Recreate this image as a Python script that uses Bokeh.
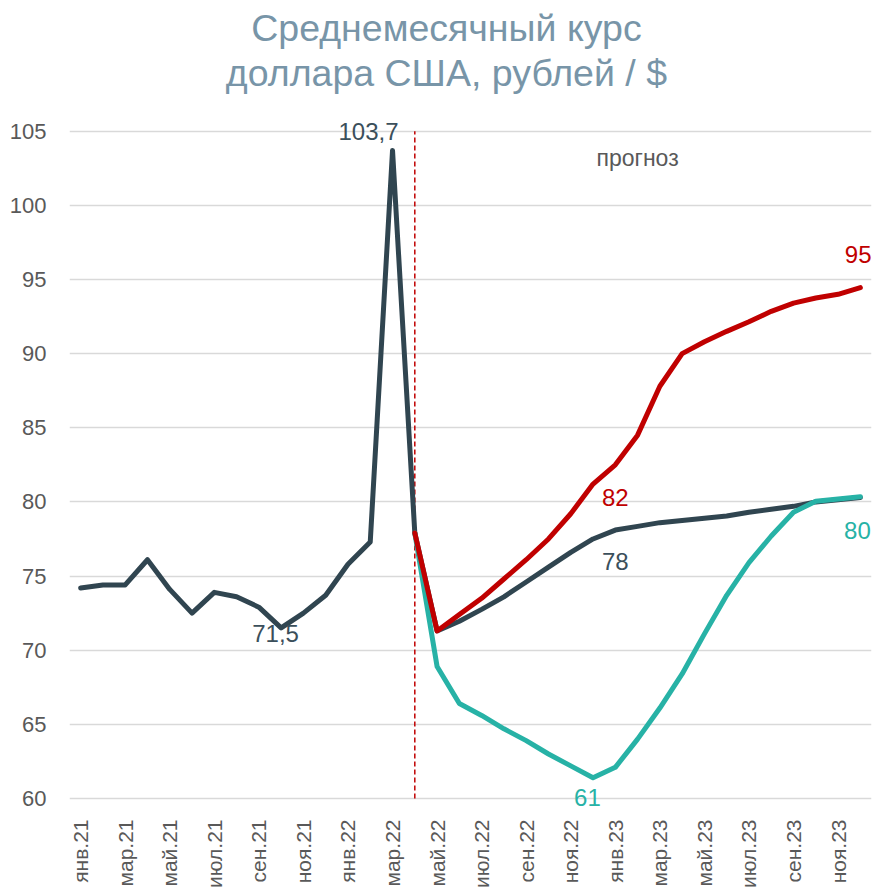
import math
from bokeh.plotting import figure
from bokeh.models import Range1d, FixedTicker, Label
from bokeh.embed import file_html
from bokeh.resources import INLINE

# ---- data ----
months = ["янв.21", "фев.21", "мар.21", "апр.21", "май.21", "июн.21", "июл.21", "авг.21",
          "сен.21", "окт.21", "ноя.21", "дек.21", "янв.22", "фев.22", "мар.22", "апр.22",
          "май.22", "июн.22", "июл.22", "авг.22", "сен.22", "окт.22", "ноя.22", "дек.22",
          "янв.23", "фев.23", "мар.23", "апр.23", "май.23", "июн.23", "июл.23", "авг.23",
          "сен.23", "окт.23", "ноя.23", "дек.23"]

history = [74.2, 74.4, 74.4, 76.1, 74.1, 72.5, 73.9, 73.6, 72.9, 71.5, 72.5, 73.7,
           75.8, 77.3, 103.7, 77.9]                      # янв.21 .. апр.22

base = [77.9, 71.3, 71.95, 72.75, 73.6, 74.6, 75.6, 76.6, 77.5, 78.1, 78.35, 78.6,
        78.75, 78.9, 79.05, 79.3, 79.5, 79.7, 80.0, 80.15, 80.3]   # апр.22 .. дек.23
optimistic = [77.9, 68.9, 66.4, 65.6, 64.7, 63.9, 63.0, 62.2, 61.4, 62.1, 64.0, 66.1,
              68.4, 71.1, 73.7, 75.9, 77.7, 79.3, 80.05, 80.2, 80.35]
pessimistic = [77.9, 71.3, 72.4, 73.5, 74.8, 76.1, 77.5, 79.2, 81.2, 82.5, 84.5, 87.8,
               90.0, 90.8, 91.5, 92.15, 92.85, 93.4, 93.75, 94.0, 94.45]

y_ticks = [60, 65, 70, 75, 80, 85, 90, 95, 100, 105]
forecast_start = 15  # апр.22

title_lines = ["Среднемесячный курс", "доллара США, рублей / $"]

x_hist = list(range(len(history)))
x_fc = list(range(forecast_start, forecast_start + len(base)))

DARK = "#304550"
LABEL_DARK = "#3B4F5B"
RED = "#C00000"
TEAL = "#27B2A6"
GREY = "#595959"
TITLE_C = "#7895A8"
FONT = "Liberation Sans"

# y range padded so that title and edge labels sit inside the drawing area
p = figure(width=872, height=890, output_backend="svg", toolbar_location=None,
           x_range=Range1d(-0.5, 35.5), y_range=Range1d(59.19, 113.81),
           min_border_left=69, min_border_right=1, min_border_top=0, min_border_bottom=78)
p.title = None
p.outline_line_color = None
p.background_fill_color = "white"

# axes
p.yaxis.ticker = FixedTicker(ticks=y_ticks)
p.yaxis.axis_line_color = None
p.yaxis.major_tick_line_color = None
p.yaxis.minor_tick_line_color = None
p.yaxis.major_label_standoff = 17
p.yaxis.major_label_text_font = FONT
p.yaxis.major_label_text_font_size = "22px"
p.yaxis.major_label_text_color = GREY

tick_idx = list(range(0, 36, 2))
p.xaxis.ticker = FixedTicker(ticks=tick_idx)
p.xaxis.major_label_overrides = {i: months[i] for i in tick_idx}
p.xaxis.major_label_orientation = math.pi / 2
p.xaxis.axis_line_color = None
p.xaxis.major_tick_line_color = None
p.xaxis.minor_tick_line_color = None
p.xaxis.major_label_standoff = 3
p.xaxis.major_label_text_font = FONT
p.xaxis.major_label_text_font_size = "21px"
p.xaxis.major_label_text_color = GREY

p.xgrid.grid_line_color = None
p.ygrid.grid_line_color = "#D9D9D9"
p.ygrid.grid_line_width = 1.5

# forecast divider
p.segment(x0=[forecast_start], y0=[y_ticks[0]], x1=[forecast_start], y1=[y_ticks[-1]],
          line_color=RED, line_dash="5 3", line_width=1.5)

# lines
common = dict(line_width=5, line_join="round", line_cap="round")
p.line(x_hist, history, line_color=DARK, **common)
p.line(x_fc, base, line_color=DARK, **common)
p.line(x_fc, optimistic, line_color=TEAL, **common)
p.line(x_fc, pessimistic, line_color=RED, **common)

def lab(x, y, text, color, size="24px"):
    p.add_layout(Label(x=x, y=y, text=text, text_color=color, text_font=FONT,
                       text_font_size=size, text_align="center", text_baseline="middle"))

lab(12.92, 105.0, "103,7", LABEL_DARK)
lab(8.75, 71.1, "71,5", LABEL_DARK)
lab(24.0, 80.3, "82", RED)
lab(24.0, 75.95, "78", LABEL_DARK)
lab(22.75, 60.1, "61", TEAL)
lab(34.87, 78.1, "80", TEAL)
lab(34.9, 96.65, "95", RED)
lab(25.0, 103.2, "прогноз", GREY, "23px")

# title (two lines)
lab(16.42, 111.93, title_lines[0], TITLE_C, "37.5px")
lab(16.42, 108.9, title_lines[1], TITLE_C, "37.5px")

open("out.html", "w").write(file_html(p, INLINE))
